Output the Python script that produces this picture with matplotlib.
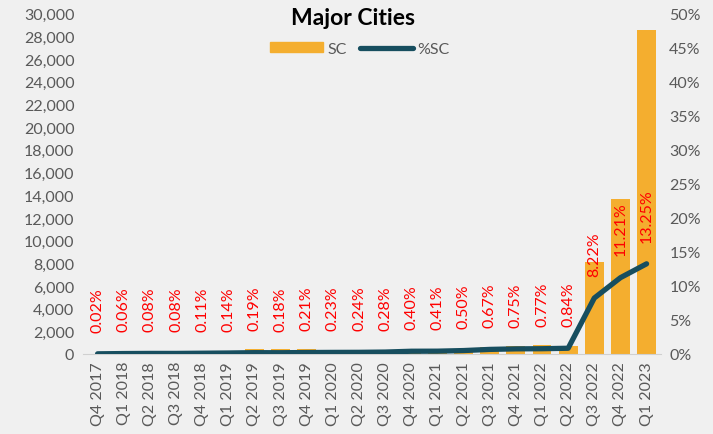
import matplotlib.pyplot as plt
from matplotlib.ticker import FuncFormatter
from matplotlib.lines import Line2D
from matplotlib.patches import Patch

quarters = ['Q4 2017', 'Q1 2018', 'Q2 2018', 'Q3 2018', 'Q4 2018',
            'Q1 2019', 'Q2 2019', 'Q3 2019', 'Q4 2019', 'Q1 2020',
            'Q2 2020', 'Q3 2020', 'Q4 2020', 'Q1 2021', 'Q2 2021',
            'Q3 2021', 'Q4 2021', 'Q1 2022', 'Q2 2022', 'Q3 2022',
            'Q4 2022', 'Q1 2023']
sc = [20, 60, 80, 80, 110, 300, 430, 420, 450, 200, 180, 250, 350, 380,
      450, 650, 680, 820, 720, 8150, 13700, 28600]
pct_sc = [0.02, 0.06, 0.08, 0.08, 0.11, 0.14, 0.19, 0.18, 0.21, 0.23, 0.24,
          0.28, 0.40, 0.41, 0.50, 0.67, 0.75, 0.77, 0.84, 8.22, 11.21, 13.25]

bar_color = '#f4ae2f'
line_color = '#174e5f'
bg = '#f0f0f0'
grey = '#595959'
font = 'Lato'
fs = 11.5

plt.rcParams['font.family'] = [font, 'DejaVu Sans']

fig = plt.figure(figsize=(7.13, 4.35), dpi=100, facecolor=bg)
ax = fig.add_axes([0.116, 0.184, 0.811, 0.782], facecolor=bg)
x = list(range(len(quarters)))
ax.bar(x, sc, width=0.72, color=bar_color, zorder=2)
ax.set_ylim(0, 30000)
ax.set_xlim(-0.57, 21.55)
ax.set_yticks(range(0, 30001, 2000))
ax.yaxis.set_major_formatter(FuncFormatter(lambda v, p: f'{int(v):,}'))
ax.set_xticks(x)
ax.set_xticklabels(quarters, rotation=90)
for s in ['top', 'left', 'right']:
    ax.spines[s].set_visible(False)
ax.spines['bottom'].set_color('#d0d0d0')
ax.tick_params(axis='both', length=0, colors=grey, labelsize=fs)
ax.tick_params(axis='x', pad=5)
ax.tick_params(axis='y', pad=6)

ax2 = ax.twinx()
ax2.plot(x, pct_sc, color=line_color, lw=3.8, solid_capstyle='round',
         solid_joinstyle='round', zorder=3)
ax2.set_ylim(0, 50)
ax2.set_yticks(range(0, 51, 5))
ax2.yaxis.set_major_formatter(FuncFormatter(lambda v, p: f'{int(v)}%'))
for s in ['top', 'left', 'right', 'bottom']:
    ax2.spines[s].set_visible(False)
ax2.tick_params(axis='y', length=0, colors=grey, labelsize=fs, pad=6)

for xi, p in zip(x, pct_sc):
    ax2.annotate(f'{p:.2f}%', (xi, p), xytext=(0, 16), textcoords='offset points',
                 rotation=90, ha='center', va='bottom', color='red', fontsize=fs)

fig.text(0.495, 0.957, 'Major Cities', ha='center', va='center',
         fontsize=16.5, fontweight='bold', color='black')
handles = [Patch(color=bar_color, label='SC'),
           Line2D([0], [0], color=line_color, lw=3.8, solid_capstyle='round', label='%SC')]
fig.legend(handles=handles, loc='center', bbox_to_anchor=(0.505, 0.885), ncol=2,
           frameon=False, fontsize=fs, labelcolor=grey, handlelength=3.3,
           handleheight=0.6, columnspacing=0.8, handletextpad=0.3)

fig.savefig('out.png', dpi=100, facecolor=bg)
